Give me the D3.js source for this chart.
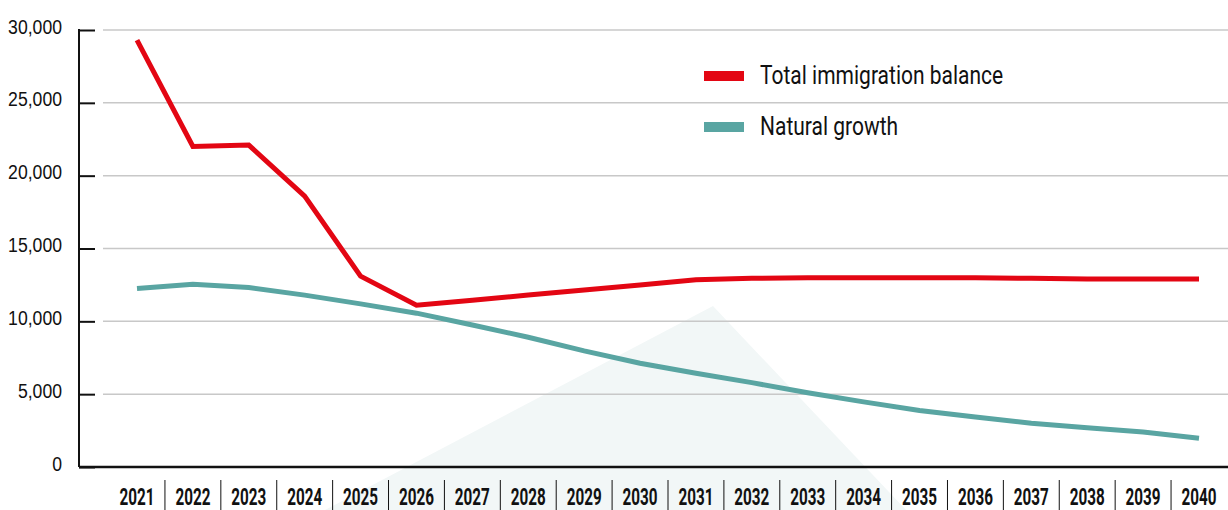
<!DOCTYPE html>
<html>
<head>
<meta charset="utf-8">
<script src="https://cdn.jsdelivr.net/npm/d3@7"></script>
<style>
  body { margin: 0; background: #fff; }
  svg { display: block; font-family: "Roboto", "Liberation Sans", sans-serif; }
</style>
</head>
<body>
<div id="chart"></div>
<script>
// ---------------- data ----------------
const years = [2021, 2022, 2023, 2024, 2025, 2026, 2027, 2028, 2029, 2030,
               2031, 2032, 2033, 2034, 2035, 2036, 2037, 2038, 2039, 2040];

const immigration = [29300, 22000, 22100, 18600, 13100, 11100, 11450, 11800, 12150, 12500,
                     12850, 12950, 13000, 13000, 13000, 13000, 12950, 12900, 12900, 12900];

const naturalGrowth = [12250, 12550, 12320, 11800, 11200, 10560, 9750, 8910, 7970, 7120,
                       6440, 5790, 5100, 4470, 3880, 3430, 3000, 2700, 2400, 1980];

const yTicks = [0, 5000, 10000, 15000, 20000, 25000, 30000];

const seriesNames = ["Total immigration balance", "Natural growth"];
const seriesColors = ["#e30613", "#59a5a2"];

// ---------------- layout ----------------
const width = 1228, height = 510;
// the original font is a condensed one, so texts get squeezed horizontally
const squeeze = 0.84;

const svg = d3.select("#chart").append("svg")
  .attr("width", width)
  .attr("height", height);

//x is a point scale, one point per year
const x = d3.scalePoint()
  .domain(years)
  .range([137, 1199]);

const y = d3.scaleLinear()
  .domain([0, 30000])
  .range([467, 30]);

//decorative pale triangle in the background
svg.append("polygon")
  .attr("points", "713,306 287,530 925,530")
  .style("fill", "#f2f7f7");

//gridlines
svg.append("g")
  .selectAll("line")
  .data(yTicks.filter(d => d > 0))
  .enter()
  .append("line")
  .attr("x1", 103)
  .attr("x2", width)
  .attr("y1", d => y(d))
  .attr("y2", d => y(d))
  .style("stroke", "#c8c8c8")
  .style("stroke-width", 1.5);

//y axis
const yAxis = svg.append("g")
  .attr("transform", "translate(79,0)")
  .call(d3.axisLeft(y).tickValues(yTicks).tickSize(0).tickFormat(""));
yAxis.select(".domain").remove();

yAxis.append("line")
  .attr("x1", 0).attr("x2", 0)
  .attr("y1", y(30000) - 1).attr("y2", y(0))
  .style("stroke", "#111").style("stroke-width", 2);

yAxis.selectAll(".tick").append("line")
  .attr("x1", 0).attr("x2", 16)
  .style("stroke", "#111").style("stroke-width", 2);

yAxis.selectAll(".tick").append("text")
  .attr("transform", `translate(-17,3) scale(${squeeze},1)`)
  .attr("text-anchor", "end")
  .style("font-size", "21px")
  .style("fill", "#111")
  .text(d => d3.format(",")(d));

//x axis line
svg.append("line")
  .attr("x1", 79).attr("x2", width)
  .attr("y1", y(0)).attr("y2", y(0))
  .style("stroke", "#111").style("stroke-width", 2.5);

//year labels
const xLabels = svg.append("g");
xLabels.selectAll("text")
  .data(years)
  .enter()
  .append("text")
  .attr("x", d => x(d))
  .attr("y", 505)
  .attr("text-anchor", "middle")
  .attr("textLength", 35)
  .attr("lengthAdjust", "spacingAndGlyphs")
  .style("font-size", "23px")
  .style("font-weight", "bold")
  .style("fill", "#111")
  .text(d => d);

//separators between the year labels
xLabels.selectAll("line")
  .data(years.slice(1))
  .enter()
  .append("line")
  .attr("x1", d => x(d) - x.step() / 2)
  .attr("x2", d => x(d) - x.step() / 2)
  .attr("y1", 480)
  .attr("y2", height)
  .style("stroke", "#111")
  .style("stroke-width", 1);

//lines
const line = d3.line()
  .x((d, i) => x(years[i]))
  .y(d => y(d));

[immigration, naturalGrowth].forEach((values, i) => {
  svg.append("path")
    .datum(values)
    .attr("d", line)
    .style("fill", "none")
    .style("stroke", seriesColors[i])
    .style("stroke-width", 5)
    .style("stroke-linejoin", "miter");
});

//legend
const legend = svg.append("g");
seriesNames.forEach((name, i) => {
  const row = legend.append("g")
    .attr("transform", `translate(704,${76 + i * 51})`);
  row.append("rect")
    .attr("x", 0).attr("y", -5)
    .attr("width", 40).attr("height", 10)
    .style("fill", seriesColors[i]);
  row.append("text")
    .attr("transform", `translate(56,8) scale(${squeeze},1)`)
    .style("font-size", "25px")
    .style("fill", "#111")
    .text(name);
});
</script>
</body>
</html>
